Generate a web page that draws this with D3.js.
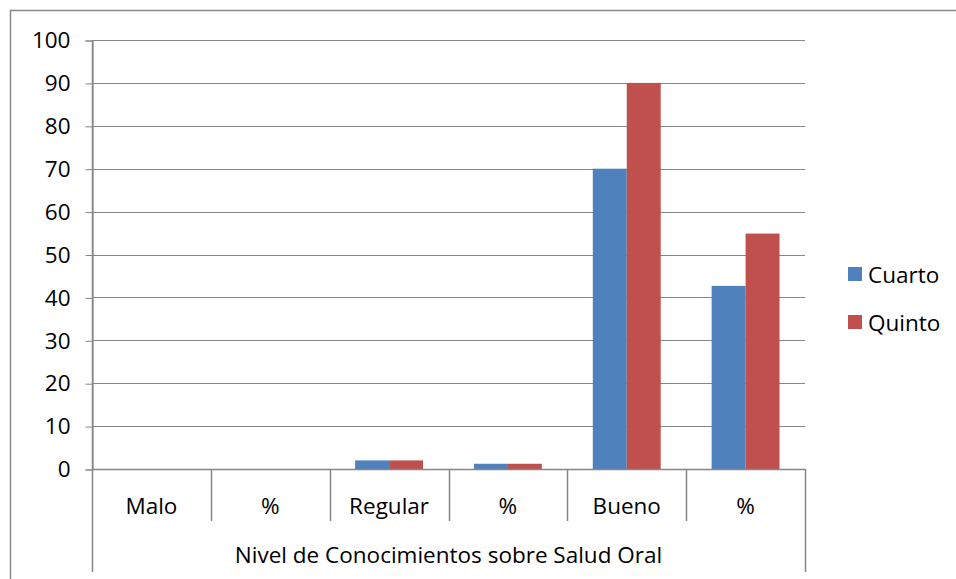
<!DOCTYPE html>
<html><head><meta charset="utf-8">
<script src="https://cdn.jsdelivr.net/npm/d3@7"></script>
<style>body{margin:0;background:#fff}svg{display:block}text{font-family:"Open Sans",sans-serif;fill:#000}</style>
</head><body>
<svg id="c" width="956" height="579"></svg>
<script>
const categories = ["Malo", "%", "Regular", "%", "Bueno", "%"];
const groupLabel = "Nivel de Conocimientos sobre Salud Oral";
const seriesNames = ["Cuarto", "Quinto"];
const cuarto = [0, 0, 2, 1.22, 70, 42.68];
const quinto = [0, 0, 2, 1.22, 90, 54.88];
const yTicks = [0, 10, 20, 30, 40, 50, 60, 70, 80, 90, 100];
const colors = ["#4F81BD", "#C0504D"];

(function () {
const svg = d3.select("#c");
const grid = "#868686";
const fs = 22.5;
svg.append("rect").attr("x", 10.5).attr("y", 10.5).attr("width", 960).attr("height", 600)
  .attr("fill", "none").attr("stroke", "#888").attr("stroke-width", 1.5);

const pL = 92, pR = 805, pT = 40, pB = 469;
const x = d3.scaleBand().domain(d3.range(categories.length)).range([pL, pR]).paddingInner(0).paddingOuter(0);
const y = d3.scaleLinear().domain([0, 100]).range([pB, pT]);
const bw = x.bandwidth() / 3.5;

svg.append("g").selectAll("line").data(yTicks.filter(d => d > 0)).join("line")
  .attr("x1", pL).attr("x2", pR).attr("y1", d => Math.round(y(d)) + 0.5).attr("y2", d => Math.round(y(d)) + 0.5)
  .attr("stroke", grid).attr("stroke-width", 1);

const yAxis = d3.axisLeft(y).tickValues(yTicks).tickSize(7).tickPadding(15).tickFormat(d3.format("d"));
const gy = svg.append("g").attr("transform", `translate(${pL + 0.5},0.5)`).call(yAxis);
gy.select(".domain").attr("stroke", grid);
gy.selectAll(".tick line").attr("stroke", grid);
gy.selectAll("text").attr("font-size", fs).attr("font-family", "Open Sans").attr("fill", "#000");

const series = [cuarto, quinto];
series.forEach((vals, si) => {
  svg.append("g").selectAll("rect").data(vals).join("rect")
    .attr("x", (d, i) => x(i) + x.bandwidth() / 2 - bw + si * bw)
    .attr("width", bw)
    .attr("y", d => y(d))
    .attr("height", d => pB - y(d))
    .attr("fill", colors[si]);
});

svg.append("line").attr("x1", pL).attr("x2", pR).attr("y1", pB + 0.5).attr("y2", pB + 0.5)
  .attr("stroke", grid).attr("stroke-width", 1.5);
const seps = d3.range(1, categories.length).map(i => x(i));
svg.append("g").selectAll("line").data(seps).join("line")
  .attr("x1", d => Math.round(d) + 0.5).attr("x2", d => Math.round(d) + 0.5)
  .attr("y1", pB).attr("y2", 521).attr("stroke", grid).attr("stroke-width", 1.5);
[pL, pR].forEach(v => svg.append("line").attr("x1", v + 0.5).attr("x2", v + 0.5)
  .attr("y1", v === pL ? pT : pB).attr("y2", 572).attr("stroke", grid).attr("stroke-width", 1.5));

svg.append("g").selectAll("text").data(categories).join("text")
  .attr("x", (d, i) => x(i) + x.bandwidth() / 2).attr("y", 505)
  .attr("text-anchor", "middle").attr("dominant-baseline", "central").attr("font-size", fs).text(d => d);
svg.append("text").attr("x", (pL + pR) / 2).attr("y", 554).attr("text-anchor", "middle")
  .attr("dominant-baseline", "central").attr("font-size", fs).text(groupLabel);

const lg = svg.append("g");
seriesNames.forEach((n, i) => {
  const cy = 274 + i * 48;
  lg.append("rect").attr("x", 848).attr("y", cy - 7).attr("width", 14).attr("height", 14).attr("fill", colors[i]);
  lg.append("text").attr("x", 868).attr("y", cy).attr("dominant-baseline", "central").attr("font-size", fs).text(n);
});
})();
</script>
</body></html>
